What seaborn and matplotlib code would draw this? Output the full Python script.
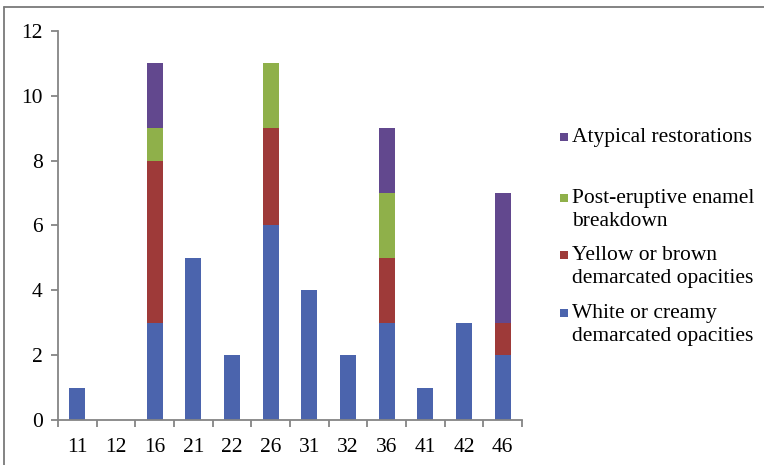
import matplotlib
matplotlib.use("Agg")
import matplotlib.pyplot as plt
from matplotlib.patches import Rectangle
from matplotlib.lines import Line2D
from matplotlib.ticker import FixedLocator
import numpy as np
import pandas as pd
import seaborn as sns

# Teeth (FDI notation) and counts per defect type
teeth = ["11", "12", "16", "21", "22", "26", "31", "32", "36", "41", "42", "46"]
white_creamy = [1, 0, 3, 5, 2, 6, 4, 2, 3, 1, 3, 2]
yellow_brown = [0, 0, 5, 0, 0, 3, 0, 0, 2, 0, 0, 1]
post_eruptive = [0, 0, 1, 0, 0, 2, 0, 0, 2, 0, 0, 0]
atypical = [0, 0, 2, 0, 0, 0, 0, 0, 2, 0, 0, 4]

series_labels = [
    "White or creamy\ndemarcated opacities",
    "Yellow or brown\ndemarcated opacities",
    "Post-eruptive enamel\nbreakdown",
    "Atypical restorations",
]
series_values = [white_creamy, yellow_brown, post_eruptive, atypical]
colors = ["#4B64AD", "#9E3A39", "#8FB04A", "#62488E"]

sns.set_theme(style="white")
plt.rcParams["font.family"] = ["Liberation Serif", "DejaVu Serif"]

FS = 15.5

fig = plt.figure(figsize=(7.64, 4.65), dpi=100)
ax = fig.add_axes([58 / 764, 1 - 420 / 465, (522 - 58) / 764, (420 - 31) / 465])

bottom = np.zeros(len(teeth))
for label, vals, col in zip(series_labels, series_values, colors):
    df = pd.DataFrame({"tooth": teeth, "count": vals})
    sns.barplot(data=df, x="tooth", y="count", order=teeth, color=col,
                bottom=bottom, width=0.41, saturation=1, ax=ax,
                linewidth=0, errorbar=None)
    bottom = bottom + np.array(vals)

ax.set_ylim(0, 12)
ax.set_xlim(-0.5, len(teeth) - 0.5)
ax.set_yticks(np.arange(0, 13, 2))
ax.set_xlabel("")
ax.set_ylabel("")

axis_grey = "#858585"
for side in ["top", "right"]:
    ax.spines[side].set_visible(False)
for side in ["left", "bottom"]:
    ax.spines[side].set_color(axis_grey)
    ax.spines[side].set_linewidth(1.3)

ax.tick_params(axis="y", which="major", direction="out", length=5, width=1.3,
               color=axis_grey, labelsize=FS, pad=6, left=True)
ax.tick_params(axis="x", which="major", length=0, labelsize=FS, pad=13)
ax.xaxis.set_minor_locator(FixedLocator(np.arange(-0.5, len(teeth), 1.0)))
ax.tick_params(axis="x", which="minor", direction="out", length=5, width=1.3,
               color=axis_grey, bottom=True)
for t in ax.get_xticklabels() + ax.get_yticklabels():
    t.set_color("black")

# Legend, top entry first, markers aligned with the first text line
legend_rows = [(3, 137), (2, 198), (1, 255), (0, 313)]
for idx, y in legend_rows:
    fy = 1 - y / 465
    fig.patches.append(Rectangle((560 / 764, fy - 4 / 465), 8 / 764, 8 / 465,
                                 transform=fig.transFigure, facecolor=colors[idx],
                                 edgecolor="none"))
    fig.text(572 / 764, fy + 9 / 465, series_labels[idx], ha="left", va="top",
             fontsize=FS, color="black", linespacing=1.3)

# Outer frame (top and left edges)
fig.lines.append(Line2D([4 / 764, 4 / 764], [0, 1 - 7 / 465], transform=fig.transFigure,
                        color="#7a7a7a", linewidth=1.3))
fig.lines.append(Line2D([4 / 764, 1], [1 - 7 / 465, 1 - 7 / 465], transform=fig.transFigure,
                        color="#7a7a7a", linewidth=1.3))

fig.savefig("out.png", dpi=100)
